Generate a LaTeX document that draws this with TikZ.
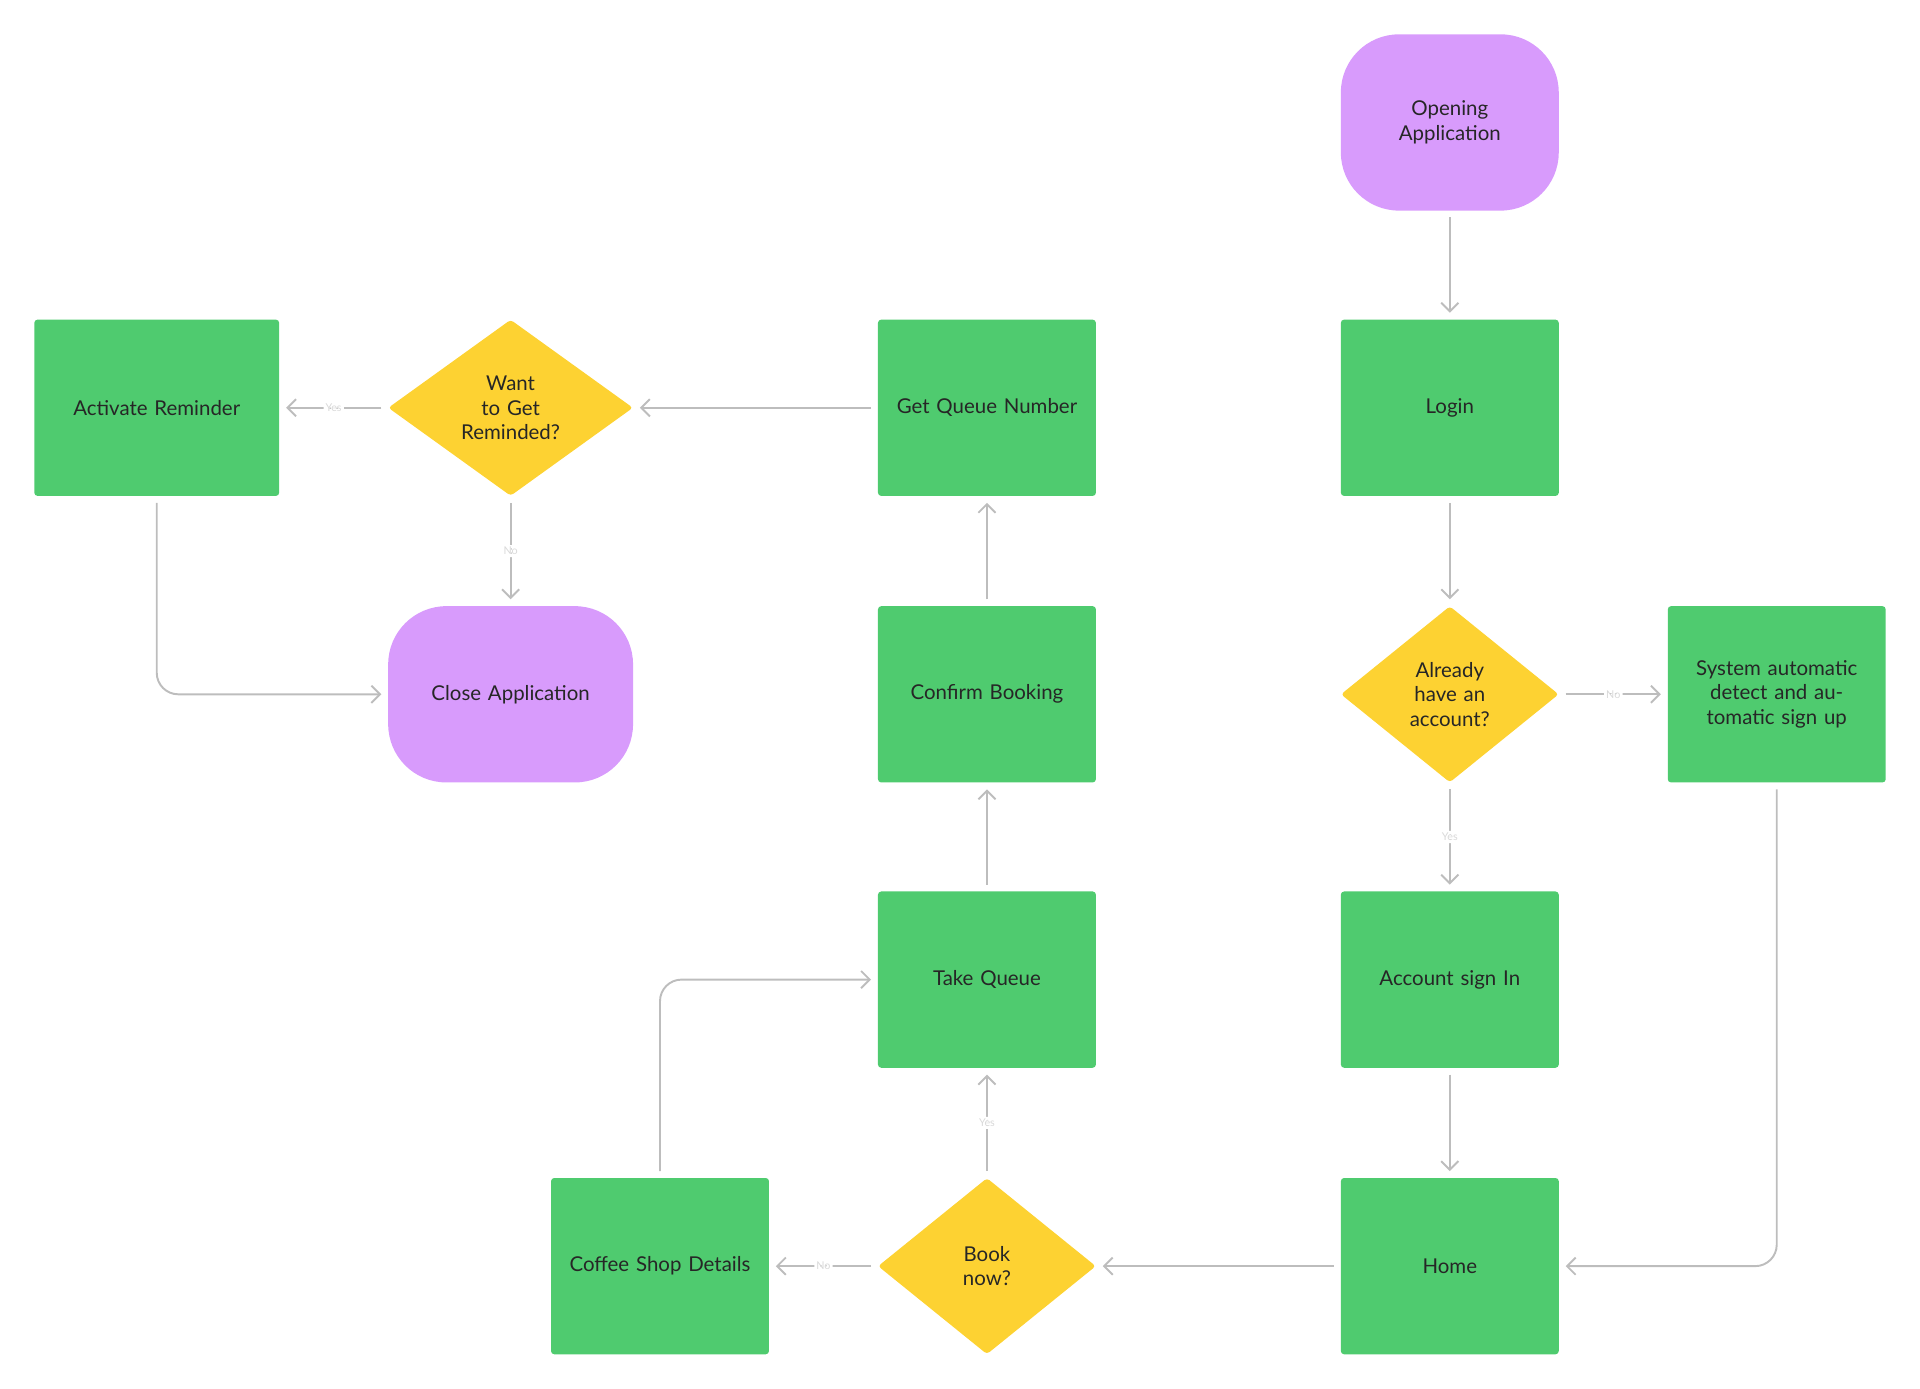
\documentclass[tikz,border=0pt]{standalone}
\usepackage{fontspec}
\setmainfont{Lato}
\usetikzlibrary{shapes.geometric,arrows.meta}
\definecolor{boxgreen}{HTML}{4FCB6F}
\definecolor{decyellow}{HTML}{FDD232}
\definecolor{endpurple}{HTML}{D89BFC}
\definecolor{linegrey}{HTML}{BDBDBD}
\begin{document}
\begin{tikzpicture}[x=0.02cm,y=-0.02cm,font=\fontsize{9.5}{11.5}\selectfont,
  step node/.style={rectangle,fill=boxgreen,rounded corners=1.5pt,minimum width=3.56cm,minimum height=2.88cm,align=center,text width=3.3cm,text=black!85},
  end node/.style={rectangle,fill=endpurple,rounded corners=0.95cm,minimum width=3.56cm,minimum height=2.88cm,align=center,text width=3.3cm,text=black!85},
  ask node/.style={diamond,fill=decyellow,rounded corners=1.5pt,minimum width=3.56cm,minimum height=2.88cm,inner sep=0pt,align=center,text width=1.7cm,text=black!85},
  flow/.style={draw=linegrey,line width=0.9pt,-{Straight Barb[length=4pt,width=8pt]},shorten >=3pt,shorten <=3pt,rounded corners=10pt},
  tag/.style={fill=white,font=\fontsize{5}{6}\selectfont,text=black!15,inner sep=1pt}]
 \useasboundingbox (0,0) rectangle (1568,1134);
 % right column
 \node[end node] (open) at (1184,100) {Opening\\Application};
 \node[step node] (login) at (1184,333) {Login};
 \node[ask node] (account) at (1184,567) {Already have an account?};
 \node[step node] (autosign) at (1451,567) {System automatic detect and automatic sign up};
 \node[step node] (signin) at (1184,800) {Account sign In};
 \node[step node] (home) at (1184,1034) {Home};
 % middle column
 \node[ask node] (book) at (806,1034) {Book\\now?};
 \node[step node] (details) at (539,1034) {Coffee Shop Details};
 \node[step node] (take) at (806,800) {Take Queue};
 \node[step node] (confirm) at (806,567) {Confirm Booking};
 \node[step node] (number) at (806,333) {Get Queue Number};
 % left column
 \node[ask node,minimum width=4cm] (remind) at (417,333) {Want to Get Reminded?};
 \node[step node,minimum width=4cm] (activate) at (128,333) {Activate Reminder};
 \node[end node,minimum width=4cm] (close) at (417,567) {Close Application};

 \draw[flow] (open) -- (login);
 \draw[flow] (login) -- (account);
 \draw[flow] (account) -- node[tag] {No} (autosign);
 \draw[flow] (account) -- node[tag] {Yes} (signin);
 \draw[flow] (autosign.south) |- (home.east);
 \draw[flow] (signin) -- (home);
 \draw[flow] (home) -- (book);
 \draw[flow] (book) -- node[tag] {Yes} (take);
 \draw[flow] (book) -- node[tag] {No} (details);
 \draw[flow] (details.north) |- (take.west);
 \draw[flow] (take) -- (confirm);
 \draw[flow] (confirm) -- (number);
 \draw[flow] (number) -- (remind);
 \draw[flow] (remind) -- node[tag] {Yes} (activate);
 \draw[flow] (remind) -- node[tag] {No} (close);
 \draw[flow] (activate.south) |- (close.west);
\end{tikzpicture}
\end{document}
